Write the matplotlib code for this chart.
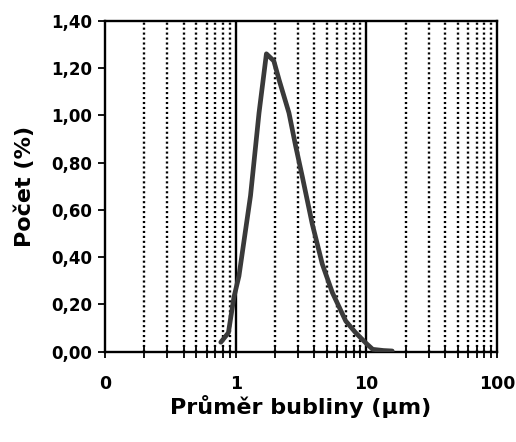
import matplotlib
matplotlib.use("Agg")
import matplotlib.pyplot as plt
import numpy as np
from matplotlib.ticker import FixedLocator, FixedFormatter

# Data
diameter_um = [0.77, 0.88, 0.97, 1.06, 1.30, 1.51, 1.72, 1.96, 2.15, 2.56, 2.88,
               3.24, 3.86, 4.61, 5.5, 6.96, 8.3, 10.0, 11.2, 13.5, 15.8]
count_pct = [0.04, 0.08, 0.23, 0.32, 0.66, 1.01, 1.26, 1.23, 1.15, 1.01, 0.87,
             0.74, 0.54, 0.37, 0.25, 0.13, 0.08, 0.035, 0.01, 0.005, 0.003]

x_major = [0.1, 1, 10, 100]
x_major_labels = ["0", "1", "10", "100"]
x_minor = [m * d for d in (0.1, 1, 10) for m in range(2, 10)]
y_ticks = [0.0, 0.2, 0.4, 0.6, 0.8, 1.0, 1.2, 1.4]
y_labels = ["0,00", "0,20", "0,40", "0,60", "0,80", "1,00", "1,20", "1,40"]

plt.rcParams['font.family'] = ['DejaVu Sans']
fig = plt.figure(figsize=(5.16, 4.42), dpi=100)
ax = fig.add_axes([0.2035, 0.2043, 0.7595, 0.7488])

ax.set_xscale('log')
ax.set_xlim(0.1, 100)
ax.set_ylim(0, 1.4)

for xm in x_minor:
    ax.axvline(xm, color='black', lw=1.7, ls=(0, (0.9, 1.2)), zorder=1)
for xM in (1, 10):
    ax.axvline(xM, color='black', lw=1.7, zorder=1)

ax.plot(diameter_um, count_pct, color='#3a3a3a', lw=3.4, zorder=3,
        solid_capstyle='round', solid_joinstyle='round')

ax.xaxis.set_major_locator(FixedLocator(x_major))
ax.xaxis.set_major_formatter(FixedFormatter(x_major_labels))
ax.xaxis.set_minor_locator(FixedLocator(x_minor))
ax.xaxis.set_minor_formatter(FixedFormatter([""] * len(x_minor)))
ax.set_yticks(y_ticks)
ax.set_yticklabels(y_labels)

ax.tick_params(axis='x', which='both', direction='inout', length=8, width=1.3,
               labelsize=12.5, pad=13)
ax.tick_params(axis='y', which='major', direction='out', length=5, width=1.3,
               labelsize=12, pad=4)
for lbl in ax.get_xticklabels() + ax.get_yticklabels():
    lbl.set_fontweight('bold')

for s in ax.spines.values():
    s.set_linewidth(1.7)

ax.set_xlabel("Průměr bubliny (µm)", fontsize=16, fontweight='bold', labelpad=1)
ax.set_ylabel("Počet (%)", fontsize=16, fontweight='bold', labelpad=12)

fig.savefig("out.png", dpi=100)
